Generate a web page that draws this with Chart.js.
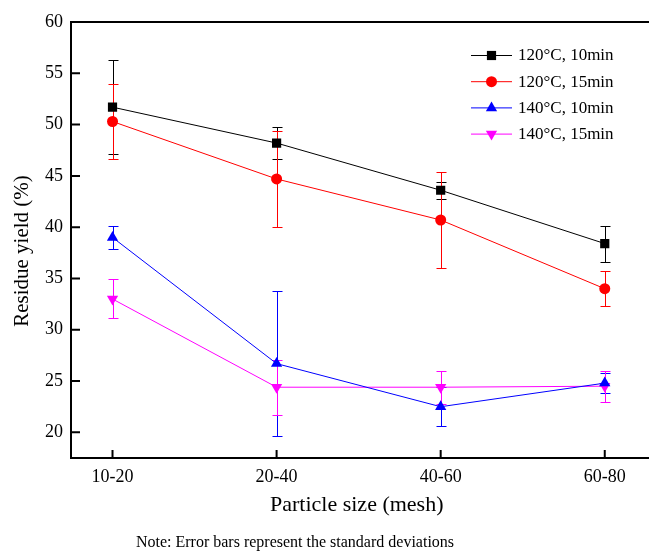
<!DOCTYPE html>
<html>
<head>
<meta charset="utf-8">
<script src="https://cdn.jsdelivr.net/npm/chart.js@4.4.0/dist/chart.umd.min.js"></script>
<style>
html, body { margin: 0; padding: 0; background: #fff; }
</style>
</head>
<body>
<canvas id="myChart" width="649" height="554"></canvas>
<script>
var categories = ['10-20', '20-40', '40-60', '60-80'];
var seriesNames = ['120°C, 10min', '120°C, 15min', '140°C, 10min', '140°C, 15min'];
var yield120_10 = [51.7, 48.2, 43.6, 38.4];
var yield120_15 = [50.3, 44.7, 40.7, 34.0];
var yield140_10 = [39.0, 26.7, 22.5, 24.8];
var yield140_15 = [33.0, 24.4, 24.4, 24.5];
var sd120_10 = [4.6, 1.6, 0.85, 1.75];
var sd120_15 = [3.7, 4.7, 4.7, 1.7];
var sd140_10 = [1.1, 7.1, 1.9, 1.0];
var sd140_15 = [1.9, 2.7, 1.6, 1.5];
var yTicks = [20, 25, 30, 35, 40, 45, 50, 55, 60];
var yTitle = 'Residue yield (%)';
var noteText = 'Note: Error bars represent the standard deviations';

var serif = '"Liberation Serif", "Times New Roman", serif';

function toPoints(vals) {
    return vals.map(function (v, i) { return { x: i, y: v }; });
}

function series(name, vals, sd, color, style, radius, rotation) {
    return {
        label: name,
        data: toPoints(vals),
        sd: sd,
        borderColor: color,
        backgroundColor: color,
        borderWidth: 1,
        pointStyle: style,
        pointRadius: radius,
        pointRotation: rotation || 0,
        pointBorderWidth: 0,
        tension: 0
    };
}

// error bars, drawn under the lines and markers
var errorBars = {
    id: 'errorBars',
    beforeDatasetsDraw: function (chart) {
        var ctx = chart.ctx, y = chart.scales.y;
        chart.data.datasets.forEach(function (ds, i) {
            var meta = chart.getDatasetMeta(i);
            ctx.save();
            ctx.strokeStyle = ds.borderColor;
            ctx.lineWidth = 1;
            meta.data.forEach(function (pt, j) {
                var v = ds.data[j].y, e = ds.sd[j];
                var px = Math.round(pt.x) + 0.5;
                var top = Math.round(y.getPixelForValue(v + e)) + 0.5;
                var bot = Math.round(y.getPixelForValue(v - e)) + 0.5;
                ctx.beginPath();
                ctx.moveTo(px, top); ctx.lineTo(px, bot);
                ctx.moveTo(px - 5, top); ctx.lineTo(px + 5, top);
                ctx.moveTo(px - 5, bot); ctx.lineTo(px + 5, bot);
                ctx.stroke();
            });
            ctx.restore();
        });
    }
};

// axes box (left, bottom, top) with inward ticks
var frame = {
    id: 'frame',
    afterDatasetsDraw: function (chart) {
        var ctx = chart.ctx, a = chart.chartArea;
        var x = chart.scales.x, y = chart.scales.y;
        ctx.save();
        ctx.strokeStyle = '#000';
        ctx.lineWidth = 2;
        ctx.beginPath();
        ctx.moveTo(chart.width, a.top);
        ctx.lineTo(a.left, a.top);
        ctx.lineTo(a.left, a.bottom);
        ctx.lineTo(chart.width, a.bottom);
        ctx.stroke();
        ctx.beginPath();
        yTicks.forEach(function (t) {
            var py = y.getPixelForValue(t);
            ctx.moveTo(a.left, py);
            ctx.lineTo(a.left + 9, py);
        });
        categories.forEach(function (c, i) {
            var px = x.getPixelForValue(i);
            ctx.moveTo(px, a.bottom);
            ctx.lineTo(px, a.bottom - 8);
        });
        ctx.stroke();
        ctx.restore();
    }
};

// legend in the top right corner, line with marker in the middle
var cornerLegend = {
    id: 'cornerLegend',
    afterDraw: function (chart) {
        var ctx = chart.ctx;
        ctx.save();
        ctx.font = '17px ' + serif;
        ctx.textBaseline = 'middle';
        ctx.textAlign = 'left';
        chart.data.datasets.forEach(function (ds, i) {
            var ly = 55 + i * 26.2;
            ctx.strokeStyle = ds.borderColor;
            ctx.lineWidth = 1;
            ctx.beginPath();
            ctx.moveTo(471, ly + 0.5);
            ctx.lineTo(512, ly + 0.5);
            ctx.stroke();
            ctx.fillStyle = ds.backgroundColor;
            Chart.helpers.drawPoint(ctx, {
                pointStyle: ds.pointStyle,
                radius: ds.pointRadius,
                rotation: ds.pointRotation,
                borderWidth: 0
            }, 491.5, ly + 0.5);
            ctx.fillStyle = '#000';
            ctx.fillText(ds.label, 518, ly + 1);
        });
        ctx.restore();
    }
};

// y axis title and the note under the chart
var texts = {
    id: 'texts',
    afterDraw: function (chart) {
        var ctx = chart.ctx;
        ctx.save();
        ctx.fillStyle = '#000';
        ctx.textAlign = 'center';
        ctx.textBaseline = 'middle';
        ctx.font = '16px ' + serif;
        ctx.fillText(noteText, 295, 543);
        ctx.translate(22, 251);
        ctx.rotate(-Math.PI / 2);
        ctx.font = '21px ' + serif;
        ctx.fillText(yTitle, 0, 0);
        ctx.restore();
    }
};

var ctx = document.getElementById('myChart').getContext('2d');
var myChart = new Chart(ctx, {
    type: 'line',
    data: {
        datasets: [
            series(seriesNames[0], yield120_10, sd120_10, '#000000', 'rect', 6.5),
            series(seriesNames[1], yield120_15, sd120_15, '#ff0000', 'circle', 5.5),
            series(seriesNames[2], yield140_10, sd140_10, '#0000ff', 'triangle', 6.5),
            series(seriesNames[3], yield140_15, sd140_15, '#ff00ff', 'triangle', 6.5, 180)
        ]
    },
    options: {
        responsive: false,
        animation: false,
        layout: { padding: { top: 22, right: 0, left: 0, bottom: 0 } },
        plugins: {
            legend: { display: false },
            tooltip: { enabled: false }
        },
        scales: {
            x: {
                type: 'linear',
                min: -0.253,
                max: 3.23,
                grid: { display: false, drawTicks: false },
                border: { display: false },
                afterBuildTicks: function (scale) {
                    scale.ticks = categories.map(function (c, i) { return { value: i }; });
                },
                afterFit: function (scale) { scale.height = 96; },
                ticks: {
                    autoSkip: false,
                    maxRotation: 0,
                    padding: 8,
                    color: '#000',
                    font: { family: serif, size: 18 },
                    callback: function (v) { return categories[v]; }
                },
                title: {
                    display: true,
                    text: 'Particle size (mesh)',
                    color: '#000',
                    font: { family: serif, size: 22 },
                    padding: { top: 0, bottom: 36 }
                }
            },
            y: {
                min: 17.5,
                max: 60,
                grid: { display: false, drawTicks: false },
                border: { display: false },
                afterBuildTicks: function (scale) {
                    scale.ticks = yTicks.map(function (t) { return { value: t }; });
                },
                afterFit: function (scale) { scale.width = 71; },
                ticks: {
                    padding: 8,
                    color: '#000',
                    font: { family: serif, size: 18 }
                }
            }
        }
    },
    plugins: [errorBars, frame, cornerLegend, texts]
});
</script>
</body>
</html>
